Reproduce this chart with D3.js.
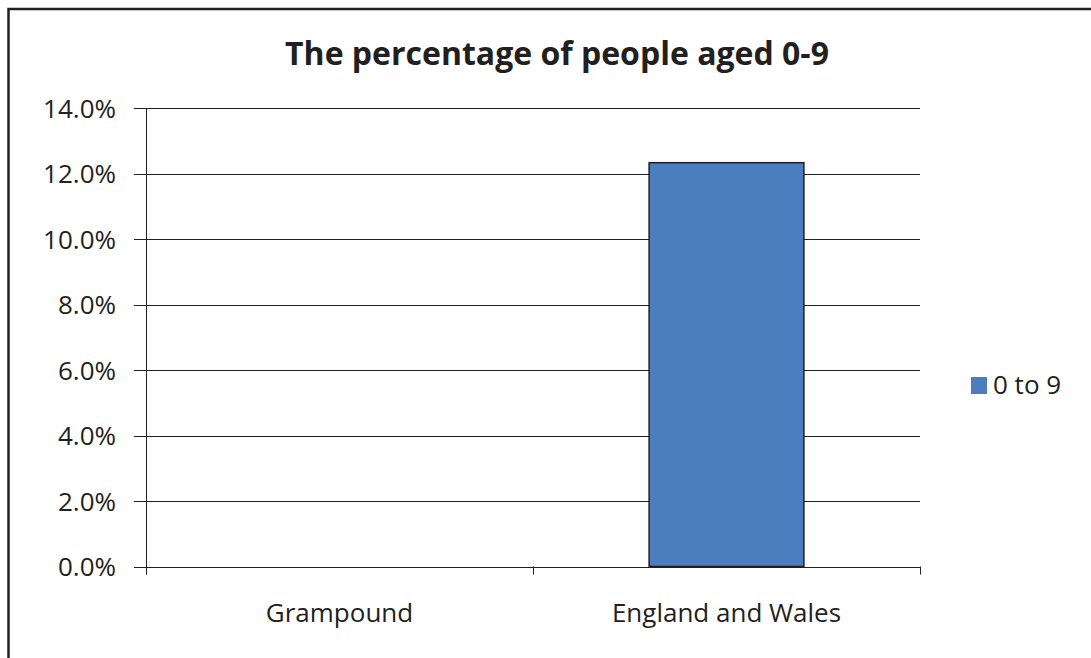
<!DOCTYPE html>
<html>
<head>
<meta charset="utf-8">
<script src="https://cdn.jsdelivr.net/npm/d3@7"></script>
<style>
  body { margin: 0; background: #fff; }
  svg { display: block; }
</style>
</head>
<body>
<div id="chart"></div>
<script>
// chart values
var categories = ["Grampound", "England and Wales"];
var values = [0, 0.1233];
var seriesName = "0 to 9";
var yTicks = [0, 0.02, 0.04, 0.06, 0.08, 0.10, 0.12, 0.14];
var titleText = "The percentage of people aged 0-9";

var width = 1091, height = 658;
var plotLeft = 146, plotRight = 920, plotTop = 108, plotBottom = 566.5;
var font = "'Open Sans', 'Noto Sans', sans-serif";

var svg = d3.select("#chart").append("svg")
  .attr("width", width)
  .attr("height", height);

// outer frame (runs off right and bottom edges)
svg.append("rect")
  .attr("x", 8.5).attr("y", 9)
  .attr("width", width + 20).attr("height", height + 20)
  .style("fill", "none")
  .style("stroke", "#231f20")
  .style("stroke-width", 2.5);

svg.append("text")
  .attr("x", 557).attr("y", 65)
  .attr("text-anchor", "middle")
  .style("font", "bold 32px " + font)
  .style("fill", "#231f20")
  .text(titleText);

var x = d3.scaleBand().domain(categories).range([plotLeft, plotRight]).paddingInner(0.6).paddingOuter(0.3);
var y = d3.scaleLinear().domain([0, 0.14]).range([plotBottom, plotTop]);

// gridlines
svg.selectAll(".grid")
  .data(yTicks)
  .enter().append("line")
  .attr("class", "grid")
  .attr("x1", plotLeft - 12).attr("x2", plotRight)
  .attr("y1", function(d) { return Math.round(y(d)) + 0.5; })
  .attr("y2", function(d) { return Math.round(y(d)) + 0.5; })
  .style("stroke", "#231f20")
  .style("stroke-width", 1);

// y axis labels
var yAxis = svg.append("g")
  .attr("transform", "translate(" + plotLeft + ",0)")
  .call(d3.axisLeft(y).tickValues(yTicks).tickSize(0).tickFormat(d3.format(".1%")).tickPadding(30));
yAxis.select(".domain").remove();
yAxis.selectAll(".tick text")
  .style("font", "26px " + font)
  .style("fill", "#231f20")
  .attr("dy", "0.36em");

// bars
svg.selectAll(".bar")
  .data(values)
  .enter().append("rect")
  .attr("class", "bar")
  .attr("x", function(d, i) { return x(categories[i]); })
  .attr("width", x.bandwidth())
  .attr("y", function(d) { return y(d); })
  .attr("height", function(d) { return y(0) - y(d); })
  .style("fill", function(d) { return d > 0 ? "#4a7ebf" : "none"; })
  .style("stroke", function(d) { return d > 0 ? "#231f20" : "none"; })
  .style("stroke-width", 1.5);

// vertical axis line
svg.append("line")
  .attr("x1", plotLeft + 0.5).attr("x2", plotLeft + 0.5)
  .attr("y1", plotTop).attr("y2", plotBottom + 8)
  .style("stroke", "#231f20");

// x axis ticks at category boundaries
var xEdges = [plotLeft, (plotLeft + plotRight) / 2, plotRight];
svg.selectAll(".xtick")
  .data(xEdges)
  .enter().append("line")
  .attr("class", "xtick")
  .attr("x1", function(d) { return Math.round(d) + 0.5; })
  .attr("x2", function(d) { return Math.round(d) + 0.5; })
  .attr("y1", plotBottom).attr("y2", plotBottom + 8)
  .style("stroke", "#231f20");

svg.selectAll(".xlabel")
  .data(categories)
  .enter().append("text")
  .attr("class", "xlabel")
  .attr("x", function(d) { return x(d) + x.bandwidth() / 2; })
  .attr("y", 622)
  .attr("text-anchor", "middle")
  .style("font", "26px " + font)
  .style("fill", "#231f20")
  .text(function(d) { return d; });

// legend
var legend = svg.append("g").attr("transform", "translate(971,377)");
legend.append("rect")
  .attr("width", 16).attr("height", 17)
  .style("fill", "#4a7ebf");
legend.append("text")
  .attr("x", 22).attr("y", 17)
  .style("font", "26px " + font)
  .style("fill", "#231f20")
  .text(seriesName);
</script>
</body>
</html>
